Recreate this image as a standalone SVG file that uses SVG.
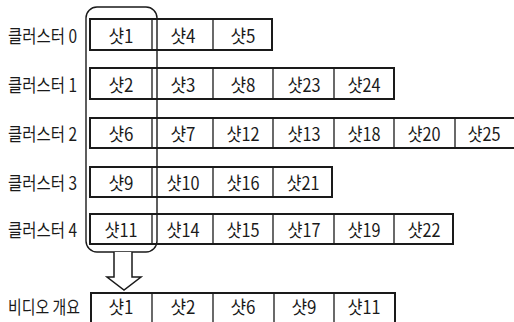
<svg xmlns="http://www.w3.org/2000/svg" width="514" height="322" viewBox="0 0 514 322">
<style>
.box{fill:#fff;stroke:#1a1a1a;stroke-width:2}
.div{stroke:#1a1a1a;stroke-width:1.3}
.t{font-family:"Noto Sans CJK KR","Noto Sans",sans-serif;font-size:18px;fill:#1a1a1a;dominant-baseline:central}
.c{text-anchor:middle}
.sel{fill:none;stroke:#1a1a1a;stroke-width:1.4}
</style>
<rect width="514" height="322" fill="#fff"/>
<g id="cluster0">
<text class="t" x="8" y="35" textLength="69" lengthAdjust="spacingAndGlyphs">클러스터 0</text>
<rect class="box" x="90" y="19" width="182" height="31"/>
<line class="div" x1="152" y1="19" x2="152" y2="50"/><line class="div" x1="213" y1="19" x2="213" y2="50"/>
<text class="t c" x="121" y="35" textLength="25" lengthAdjust="spacingAndGlyphs">샷1</text>
<text class="t c" x="183" y="35" textLength="25" lengthAdjust="spacingAndGlyphs">샷4</text>
<text class="t c" x="243" y="35" textLength="25" lengthAdjust="spacingAndGlyphs">샷5</text>
</g>
<g id="cluster1">
<text class="t" x="8" y="84" textLength="69" lengthAdjust="spacingAndGlyphs">클러스터 1</text>
<rect class="box" x="90" y="68" width="304" height="31"/>
<line class="div" x1="152" y1="68" x2="152" y2="99"/><line class="div" x1="213" y1="68" x2="213" y2="99"/><line class="div" x1="273" y1="68" x2="273" y2="99"/><line class="div" x1="334" y1="68" x2="334" y2="99"/>
<text class="t c" x="121" y="84" textLength="25" lengthAdjust="spacingAndGlyphs">샷2</text>
<text class="t c" x="183" y="84" textLength="25" lengthAdjust="spacingAndGlyphs">샷3</text>
<text class="t c" x="243" y="84" textLength="25" lengthAdjust="spacingAndGlyphs">샷8</text>
<text class="t c" x="304" y="84" textLength="33" lengthAdjust="spacingAndGlyphs">샷23</text>
<text class="t c" x="364" y="84" textLength="33" lengthAdjust="spacingAndGlyphs">샷24</text>
</g>
<g id="cluster2">
<text class="t" x="8" y="133" textLength="69" lengthAdjust="spacingAndGlyphs">클러스터 2</text>
<rect class="box" x="90" y="118" width="426" height="30"/>
<line class="div" x1="152" y1="118" x2="152" y2="148"/><line class="div" x1="213" y1="118" x2="213" y2="148"/><line class="div" x1="273" y1="118" x2="273" y2="148"/><line class="div" x1="334" y1="118" x2="334" y2="148"/><line class="div" x1="394" y1="118" x2="394" y2="148"/><line class="div" x1="455" y1="118" x2="455" y2="148"/>
<text class="t c" x="121" y="133" textLength="25" lengthAdjust="spacingAndGlyphs">샷6</text>
<text class="t c" x="183" y="133" textLength="25" lengthAdjust="spacingAndGlyphs">샷7</text>
<text class="t c" x="243" y="133" textLength="33" lengthAdjust="spacingAndGlyphs">샷12</text>
<text class="t c" x="304" y="133" textLength="33" lengthAdjust="spacingAndGlyphs">샷13</text>
<text class="t c" x="364" y="133" textLength="33" lengthAdjust="spacingAndGlyphs">샷18</text>
<text class="t c" x="424" y="133" textLength="33" lengthAdjust="spacingAndGlyphs">샷20</text>
<text class="t c" x="484" y="133" textLength="33" lengthAdjust="spacingAndGlyphs">샷25</text>
</g>
<g id="cluster3">
<text class="t" x="8" y="182" textLength="69" lengthAdjust="spacingAndGlyphs">클러스터 3</text>
<rect class="box" x="90" y="167" width="242" height="30"/>
<line class="div" x1="152" y1="167" x2="152" y2="197"/><line class="div" x1="213" y1="167" x2="213" y2="197"/><line class="div" x1="273" y1="167" x2="273" y2="197"/>
<text class="t c" x="121" y="182" textLength="25" lengthAdjust="spacingAndGlyphs">샷9</text>
<text class="t c" x="183" y="182" textLength="33" lengthAdjust="spacingAndGlyphs">샷10</text>
<text class="t c" x="243" y="182" textLength="33" lengthAdjust="spacingAndGlyphs">샷16</text>
<text class="t c" x="303" y="182" textLength="33" lengthAdjust="spacingAndGlyphs">샷21</text>
</g>
<g id="cluster4">
<text class="t" x="8" y="229" textLength="69" lengthAdjust="spacingAndGlyphs">클러스터 4</text>
<rect class="box" x="90" y="214" width="363" height="30"/>
<line class="div" x1="152" y1="214" x2="152" y2="244"/><line class="div" x1="213" y1="214" x2="213" y2="244"/><line class="div" x1="273" y1="214" x2="273" y2="244"/><line class="div" x1="334" y1="214" x2="334" y2="244"/><line class="div" x1="394" y1="214" x2="394" y2="244"/>
<text class="t c" x="121" y="229" textLength="33" lengthAdjust="spacingAndGlyphs">샷11</text>
<text class="t c" x="183" y="229" textLength="33" lengthAdjust="spacingAndGlyphs">샷14</text>
<text class="t c" x="243" y="229" textLength="33" lengthAdjust="spacingAndGlyphs">샷15</text>
<text class="t c" x="304" y="229" textLength="33" lengthAdjust="spacingAndGlyphs">샷17</text>
<text class="t c" x="364" y="229" textLength="33" lengthAdjust="spacingAndGlyphs">샷19</text>
<text class="t c" x="424" y="229" textLength="33" lengthAdjust="spacingAndGlyphs">샷22</text>
</g>
<g id="selection">
<rect class="sel" x="86" y="7" width="71" height="245" rx="11"/>
</g>
<g id="connectors">
<path d="M114 252 V277 H107 L124 290 L141 277 H132 V252" fill="#fff" stroke="#1a1a1a" stroke-width="1.5" stroke-linejoin="miter"/>
</g>
<g id="summary">
<text class="t" x="8" y="306" textLength="72" lengthAdjust="spacingAndGlyphs">비디오 개요</text>
<rect class="box" x="91" y="293" width="304" height="32"/>
<line class="div" x1="152" y1="293" x2="152" y2="322"/><line class="div" x1="213" y1="293" x2="213" y2="322"/><line class="div" x1="274" y1="293" x2="274" y2="322"/><line class="div" x1="334" y1="293" x2="334" y2="322"/>
<text class="t c" x="121" y="306" textLength="25" lengthAdjust="spacingAndGlyphs">샷1</text>
<text class="t c" x="183" y="306" textLength="25" lengthAdjust="spacingAndGlyphs">샷2</text>
<text class="t c" x="243" y="306" textLength="25" lengthAdjust="spacingAndGlyphs">샷6</text>
<text class="t c" x="304" y="306" textLength="25" lengthAdjust="spacingAndGlyphs">샷9</text>
<text class="t c" x="364" y="306" textLength="33" lengthAdjust="spacingAndGlyphs">샷11</text>
</g>
</svg>
